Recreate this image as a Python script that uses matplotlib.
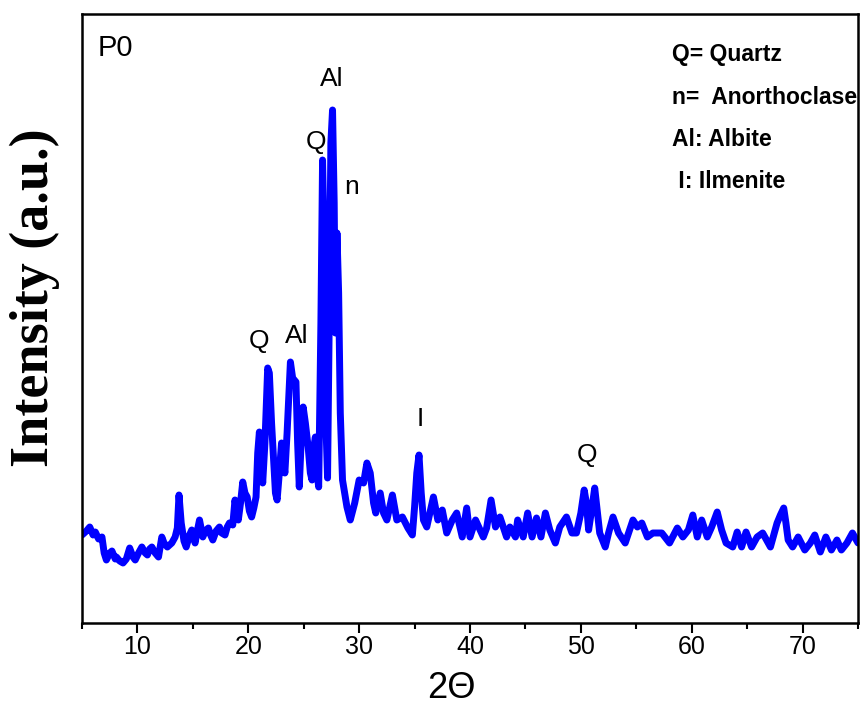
import numpy as np
import matplotlib.pyplot as plt

# XRD pattern of sample P0 (intensity in arbitrary units)
two_theta = [
    5.0, 5.4, 5.7, 6.0, 6.2, 6.5, 6.8, 7.0, 7.2, 7.5, 7.7, 8.0, 8.1, 8.4, 8.7, 9.0,
    9.3, 9.6, 9.8, 10.1, 10.4, 10.7, 10.9, 11.1, 11.3, 11.6, 11.9, 12.2, 12.4, 12.7,
    13.1, 13.4, 13.6, 13.75, 13.95, 14.2, 14.4, 14.7, 14.9, 15.2, 15.4, 15.6, 15.9,
    16.1, 16.4, 16.6, 16.8, 17.1, 17.4, 17.6, 17.9, 18.1, 18.3, 18.6, 18.8, 19.0,
    19.1, 19.3, 19.5, 19.7, 19.9, 20.1, 20.3, 20.5, 20.7, 20.85, 21.0, 21.15, 21.3,
    21.5, 21.75, 21.9, 22.1, 22.3, 22.45, 22.6, 22.8, 23.0, 23.15, 23.3, 23.5, 23.8,
    24.0, 24.3, 24.45, 24.6, 24.8, 24.95, 25.15, 25.4, 25.6, 25.75, 25.9, 26.05,
    26.2, 26.35, 26.55, 26.7, 26.85, 27.0, 27.15, 27.3, 27.45, 27.6, 27.75, 27.85,
    28.0, 28.15, 28.3, 28.5, 28.9, 29.2, 29.6, 30.0, 30.4, 30.7, 31.0, 31.3, 31.5,
    31.9, 32.2, 32.5, 33.0, 33.4, 33.9, 34.4, 34.8, 35.0, 35.2, 35.4, 35.6, 35.8,
    36.1, 36.7, 37.1, 37.5, 37.9, 38.4, 38.8, 39.3, 39.7, 40.0, 40.5, 41.2, 41.5,
    41.9, 42.3, 42.7, 43.3, 43.6, 44.1, 44.3, 44.8, 45.2, 45.6, 46.0, 46.4, 46.8,
    47.2, 47.7, 48.1, 48.7, 49.2, 49.6, 50.0, 50.3, 50.5, 50.7, 51.0, 51.25, 51.45,
    51.7, 52.2, 52.5, 52.9, 53.4, 54.0, 54.7, 55.1, 55.5, 56.0, 56.5, 57.3, 58.0,
    58.7, 59.2, 59.7, 60.1, 60.5, 60.9, 61.4, 61.8, 62.3, 62.7, 63.1, 63.7, 64.1,
    64.5, 64.9, 65.4, 65.9, 66.4, 67.1, 67.7, 68.0, 68.3, 68.5, 68.7, 69.1, 69.6,
    70.2, 70.7, 71.1, 71.6, 72.1, 72.6, 73.1, 73.5, 74.0, 74.5, 75.0,
]
intensity = [
    88, 92, 96, 88, 91, 84, 86, 70, 63, 70, 72, 64, 66, 62, 60, 64,
    75, 66, 63, 70, 76, 70, 68, 74, 76, 70, 66, 86, 80, 76,
    80, 86, 95, 128, 100, 82, 76, 88, 93, 80, 92, 103, 86,
    92, 95, 88, 83, 92, 96, 90, 88, 96, 100, 98, 123, 108,
    103, 120, 141, 130, 126, 112, 106, 115, 126, 170, 191, 170, 140,
    180, 255, 250, 200, 160, 130, 123, 150, 180, 165, 150, 190, 261,
    245, 241, 180, 136, 190, 216, 200, 176, 150, 143, 175, 186,
    150, 136, 300, 463, 380, 200, 145, 300, 480, 513, 420, 290,
    390, 330, 210, 143, 116, 103, 120, 143, 140, 160, 150, 120, 110,
    130, 110, 103, 128, 103, 106, 95, 88, 116, 150, 168, 130, 103,
    96, 126, 103, 113, 90, 103, 110, 86, 115, 86, 103, 86, 95,
    123, 96, 106, 86, 96, 86, 103, 86, 110, 86, 105, 86, 110,
    93, 80, 96, 106, 90, 90, 110, 133, 120, 93, 115, 135, 115,
    90, 76, 90, 106, 90, 80, 103, 96, 100, 86, 90, 90, 80,
    95, 86, 93, 108, 86, 103, 86, 96, 111, 93, 80, 76, 91,
    76, 91, 76, 86, 90, 76, 100, 108, 115, 100, 83, 76, 86,
    73, 80, 88, 71, 86, 73, 83, 73, 80, 90, 80,
]

# phase labels on the peaks
peak_labels = ["Al", "Q", "n", "Q", "Al", "I", "Q"]
peak_label_x = [27.55, 26.1, 29.36, 20.97, 24.39, 35.49, 50.55]
peak_label_y = [544, 481, 436, 282, 287, 204, 168]

key_lines = ["Q= Quartz", "n=  Anorthoclase", "Al: Albite", " I: Ilmenite"]
key_y = [568, 526, 484, 442]

x_ticks = [10, 20, 30, 40, 50, 60, 70]
x_minor = [5, 15, 25, 35, 45, 55, 65, 75]

fig = plt.figure(figsize=(8.6, 7.08), dpi=100)
ax = fig.add_axes([82 / 860, 85 / 708, 776 / 860, 609 / 708])

ax.plot(two_theta, intensity, color=(0, 0, 1), lw=5,
        solid_joinstyle="round", solid_capstyle="round")

ax.set_xlim(5, 75)
ax.set_ylim(0, 609)
ax.set_yticks([])
ax.set_xticks(x_ticks)
ax.set_xticks(x_minor, minor=True)
ax.tick_params(axis="x", which="major", direction="out", length=7, width=1.5, pad=2,
               labelsize=18)
ax.tick_params(axis="x", which="minor", direction="out", length=4, width=1.5)
for lab in ax.get_xticklabels():
    lab.set_family("Liberation Sans")
for sp in ax.spines.values():
    sp.set_linewidth(1.8)

for lbl, px, py in zip(peak_labels, peak_label_x, peak_label_y):
    ax.text(px, py, lbl, ha="center", va="center", fontsize=19,
            family="Liberation Sans")

ax.text(6.4, 575, "P0", ha="left", va="center", fontsize=21, family="Liberation Sans")

for line, ky in zip(key_lines, key_y):
    ax.text(58.2, ky, line, ha="left", va="center", fontsize=16.5,
            fontweight="bold", family="Liberation Sans")

fig.text(35 / 860, 1 - 298 / 708, "Intensity (a.u.)", rotation=90, ha="center",
         va="center", fontsize=39, fontweight="bold", family="Liberation Serif")
fig.text(451 / 860, 1 - 688 / 708, "2\u0398", ha="center", va="center",
         fontsize=26, family="Liberation Sans")

fig.savefig("out.png", dpi=100)
